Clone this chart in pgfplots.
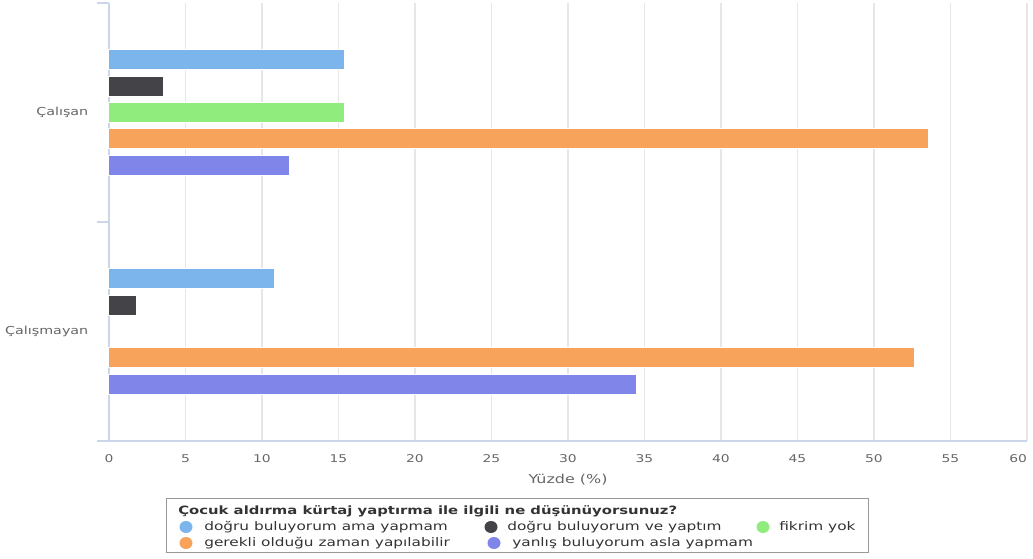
\documentclass[border=0pt]{standalone}
\usepackage{fontspec}
\setmainfont{DejaVu Sans}[FakeStretch=1.3]
\usepackage{pgfplots}
\pgfplotsset{compat=1.18}

\definecolor{hcblue}{HTML}{7CB5EC}
\definecolor{hcdark}{HTML}{434348}
\definecolor{hcgreen}{HTML}{90ED7D}
\definecolor{hcorange}{HTML}{F7A35C}
\definecolor{hcpurple}{HTML}{8085E9}
\definecolor{axisline}{HTML}{CCD6EB}
\definecolor{gridc}{HTML}{E6E6E6}
\definecolor{labelc}{HTML}{666666}
\definecolor{legtxt}{HTML}{333333}
\definecolor{legbox}{HTML}{999999}

% y = 1 : Çalışan, y = 0 : Çalışmayan
\begin{document}
\begin{tikzpicture}
\begin{axis}[
  scale only axis,
  width=688.5pt, height=328.5pt,
  xmin=0, xmax=60, ymin=-0.5, ymax=1.5,
  xtick={0,5,...,60},
  xticklabels={0,5,10,15,20,25,30,35,40,45,50,55,\makebox[0pt][r]{60}},
  ytick={0,1},
  yticklabels={Çalışmayan,Çalışan},
  minor ytick={-0.5,0.5,1.5},
  axis x line*=bottom, axis y line*=left,
  axis line style={axisline, line width=0.9pt, -},
  xmajorgrids,
  major grid style={gridc, line width=0.9pt},
  major tick length=0pt,
  minor tick length=9pt,
  tick align=outside,
  minor tick style={axisline, line width=0.9pt},
  xticklabel style={font=\fontsize{8}{9}\selectfont, text=labelc, yshift=-7pt},
  yticklabel style={font=\fontsize{8.25}{10}\selectfont, text=labelc, xshift=-12pt},
  xlabel={Yüzde (\%)},
  xlabel style={font=\fontsize{9.2}{10}\selectfont, text=labelc, yshift=-1.5pt},
  clip=false,
]
\addplot[xbar, bar width=0.0905, bar shift=0.2408, fill=hcblue, draw=white, line width=0.75pt]
  coordinates {(15.36,1) (10.80,0)};
\addplot[xbar, bar width=0.0905, bar shift=0.1204, fill=hcdark, draw=white, line width=0.75pt]
  coordinates {(3.55,1) (1.78,0)};
\addplot[xbar, bar width=0.0905, bar shift=0, fill=hcgreen, draw=white, line width=0.75pt]
  coordinates {(15.36,1)};
\addplot[xbar, bar width=0.0905, bar shift=-0.1204, fill=hcorange, draw=white, line width=0.75pt]
  coordinates {(53.53,1) (52.63,0)};
\addplot[xbar, bar width=0.0905, bar shift=-0.2408, fill=hcpurple, draw=white, line width=0.75pt]
  coordinates {(11.78,1) (34.49,0)};
\end{axis}

\begin{scope}[shift={(current axis.north west)}]
\begin{scope}[x=0.75pt, y=-0.75pt, shift={(-109,-3)}]
  \path (0,0) rectangle (1033,558);
  \draw[legbox, line width=0.75pt] (166,498) rectangle (868,552);
  \node[anchor=west, inner sep=0, text=legtxt, font=\fontsize{8.56}{10}\selectfont\bfseries]
    at (178,511) {Çocuk aldırma kürtaj yaptırma ile ilgili ne düşünüyorsunuz?};
  \begin{scope}[every node/.style={anchor=west, inner sep=0, text=legtxt, font=\fontsize{8.85}{11}\selectfont}]
    \fill[hcblue]   (186,527) ellipse [x radius=6.5, y radius=6];
    \node at (204,527) {doğru buluyorum ama yapmam};
    \fill[hcdark]   (491,527) ellipse [x radius=6.5, y radius=6];
    \node at (507,527) {doğru buluyorum ve yaptım};
    \fill[hcgreen]  (763,527) ellipse [x radius=6.5, y radius=6];
    \node at (779,527) {fikrim yok};
    \fill[hcorange] (186,543) ellipse [x radius=6.5, y radius=6];
    \node at (204,543) {gerekli olduğu zaman yapılabilir};
    \fill[hcpurple] (494,543) ellipse [x radius=6.5, y radius=6];
    \node at (512,543) {yanlış buluyorum asla yapmam};
  \end{scope}
\end{scope}
\end{scope}
\end{tikzpicture}
\end{document}
